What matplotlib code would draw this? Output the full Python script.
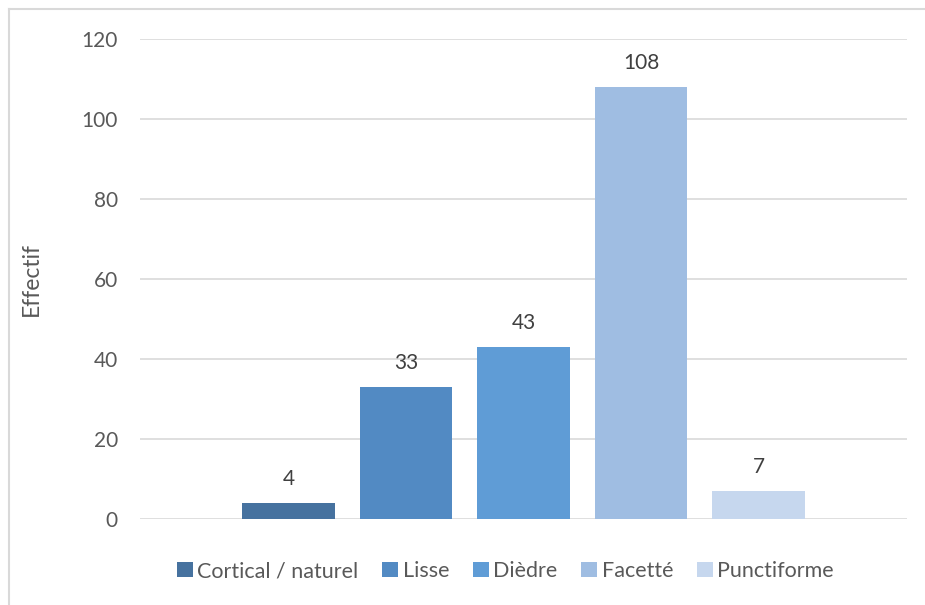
import matplotlib.pyplot as plt
from matplotlib.lines import Line2D

categories = ["Cortical / naturel", "Lisse", "Dièdre", "Facetté", "Punctiforme"]
values = [4, 33, 43, 108, 7]
colors = ["#46729f", "#528ac3", "#5f9cd6", "#9fbde2", "#c6d7ee"]
yticks = [0, 20, 40, 60, 80, 100, 120]

plt.rcParams['font.family'] = ['Lato', 'DejaVu Sans']
txt = "#595959"

fig = plt.figure(figsize=(9.25, 6.05), dpi=100)
ax = fig.add_axes([140 / 925, 86 / 605, 767 / 925, 480 / 605])

for i, (cat, val, col) in enumerate(zip(categories, values, colors)):
    ax.bar(i, val, width=0.79, color=col, label=cat, zorder=3)
    ax.annotate(str(val), (i, val), xytext=(0, 10), textcoords="offset points",
                ha="center", va="bottom", fontsize=15, color="#404040")

ax.set_xlim(-1.264, 5.264)
ax.set_ylim(0, 120)
ax.set_yticks(yticks)
ax.set_xticks([])
ax.tick_params(axis="y", length=0, pad=16, labelsize=15, labelcolor=txt)
ax.grid(axis="y", color="#d9d9d9", lw=1.2, zorder=0)
for s in ax.spines.values():
    s.set_visible(False)
ax.set_ylabel("Effectif", fontsize=16.5, color=txt, va="center")
ax.yaxis.set_label_coords(-0.141, 0.5)

fig.legend(loc="center", bbox_to_anchor=(505.5 / 925, 1 - 571 / 605), ncol=5,
           frameon=False, fontsize=15.5, handlelength=0.75, handleheight=0.75,
           handletextpad=0.2, columnspacing=1.1, labelcolor=txt)

# chart border (left and top only visible)
fig.add_artist(Line2D([8.5 / 925, 8.5 / 925], [0, 1 - 9 / 605], color="#d9d9d9", lw=1.5))
fig.add_artist(Line2D([8.5 / 925, 1], [1 - 9 / 605, 1 - 9 / 605], color="#d9d9d9", lw=1.5))

fig.savefig("out.png", dpi=100)
